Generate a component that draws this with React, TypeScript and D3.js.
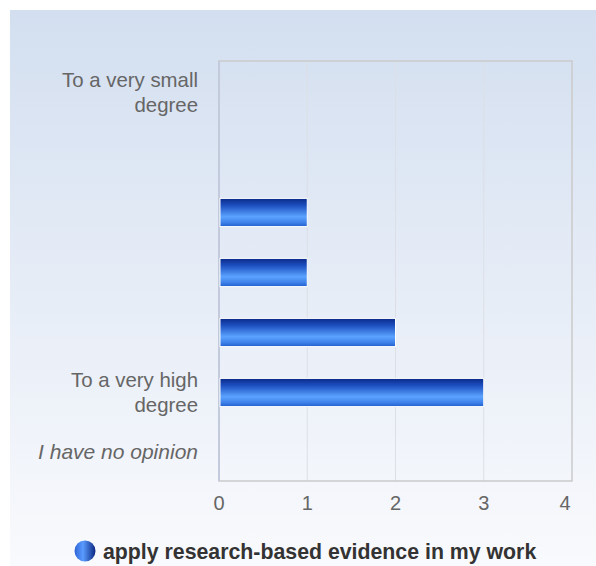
import React from "react";
import * as d3 from "d3";

const categories = [
  "To a very small|degree",
  "",
  "",
  "",
  "",
  "To a very high|degree",
  "I have no opinion",
];
const values = [0, 0, 1, 1, 2, 3, 0];
const xTicks = [0, 1, 2, 3, 4];
const seriesName = "apply research-based evidence in my work";

const W = 596;
const H = 566;
const M = { left: 219, right: 572, top: 61, bottom: 481 };

export default function App() {
  const x = d3.scaleLinear().domain([0, 4]).range([M.left, M.right]);
  const y = d3
    .scaleBand<number>()
    .domain(d3.range(categories.length))
    .range([M.top + 1.5, M.bottom + 1.5])
    .paddingInner(0.53)
    .paddingOuter(0.265);
  const font = "'Liberation Sans', Arial, sans-serif";

  return (
    <svg
      width={W}
      height={H}
      style={{ position: "absolute", left: 0, top: 0 }}
      fontFamily={font}
    >
      <defs>
        <linearGradient id="bg" x1="0" y1="0" x2="0" y2="1">
          <stop offset="0%" stopColor="#d3dff0" />
          <stop offset="100%" stopColor="#f9fafd" />
        </linearGradient>
        <linearGradient id="bar" x1="0" y1="0" x2="0" y2="1">
          <stop offset="0%" stopColor="#0a2a88" />
          <stop offset="25%" stopColor="#1d4fbf" />
          <stop offset="65%" stopColor="#5ba3ff" />
          <stop offset="85%" stopColor="#3f82ea" />
          <stop offset="100%" stopColor="#2160cf" />
        </linearGradient>
        <linearGradient id="leg" x1="0" y1="0" x2="1" y2="0">
          <stop offset="0%" stopColor="#2d63d6" />
          <stop offset="40%" stopColor="#5a9cff" />
          <stop offset="100%" stopColor="#0b2782" />
        </linearGradient>
      </defs>
      <rect x={10} y={10} width={W - 10} height={H - 10} fill="url(#bg)" />
      {xTicks.slice(1, -1).map((t) => (
        <line
          key={t}
          x1={x(t)}
          x2={x(t)}
          y1={M.top}
          y2={M.bottom}
          stroke="#dcdfe6"
          strokeWidth={1}
        />
      ))}
      <rect
        x={M.left}
        y={M.top}
        width={M.right - M.left}
        height={M.bottom - M.top}
        fill="none"
        stroke="#cacaca"
        strokeWidth={1.5}
      />
      <line
        x1={M.left}
        x2={M.left}
        y1={M.top}
        y2={M.bottom}
        stroke="#c3cadb"
        strokeWidth={2}
      />
      {values.map((v, i) =>
        v > 0 ? (
          <rect
            key={i}
            x={x(0) + 1}
            y={y(i)!}
            width={x(v) - x(0) - 1}
            height={y.bandwidth()}
            fill="url(#bar)"
            stroke="#ffffff"
            strokeWidth={1}
          />
        ) : null
      )}
      {categories.map((c, i) => {
        if (!c) return null;
        const lines = c.split("|");
        const cy = y(i)! + y.bandwidth() / 2;
        const lh = 25;
        const italic = i === categories.length - 1;
        return (
          <text
            key={i}
            x={198}
            textAnchor="end"
            fontSize={italic ? 21 : 20.4}
            fill="#666666"
            fontStyle={italic ? "italic" : "normal"}
          >
            {lines.map((l, j) => (
              <tspan
                key={j}
                x={198}
                y={cy + (j - (lines.length - 1) / 2) * lh + (italic ? 6 : 7)}
              >
                {l}
              </tspan>
            ))}
          </text>
        );
      })}
      {xTicks.map((t) => (
        <text
          key={t}
          x={t === 4 ? x(t) - 7 : x(t)}
          y={510}
          textAnchor="middle"
          fontSize={20}
          fill="#666666"
        >
          {t}
        </text>
      ))}
      <circle cx={85} cy={551} r={10.5} fill="url(#leg)" />
      <text x={103} y={559} fontSize={21.3} fontWeight="bold" fill="#333333">
        {seriesName}
      </text>
    </svg>
  );
}
